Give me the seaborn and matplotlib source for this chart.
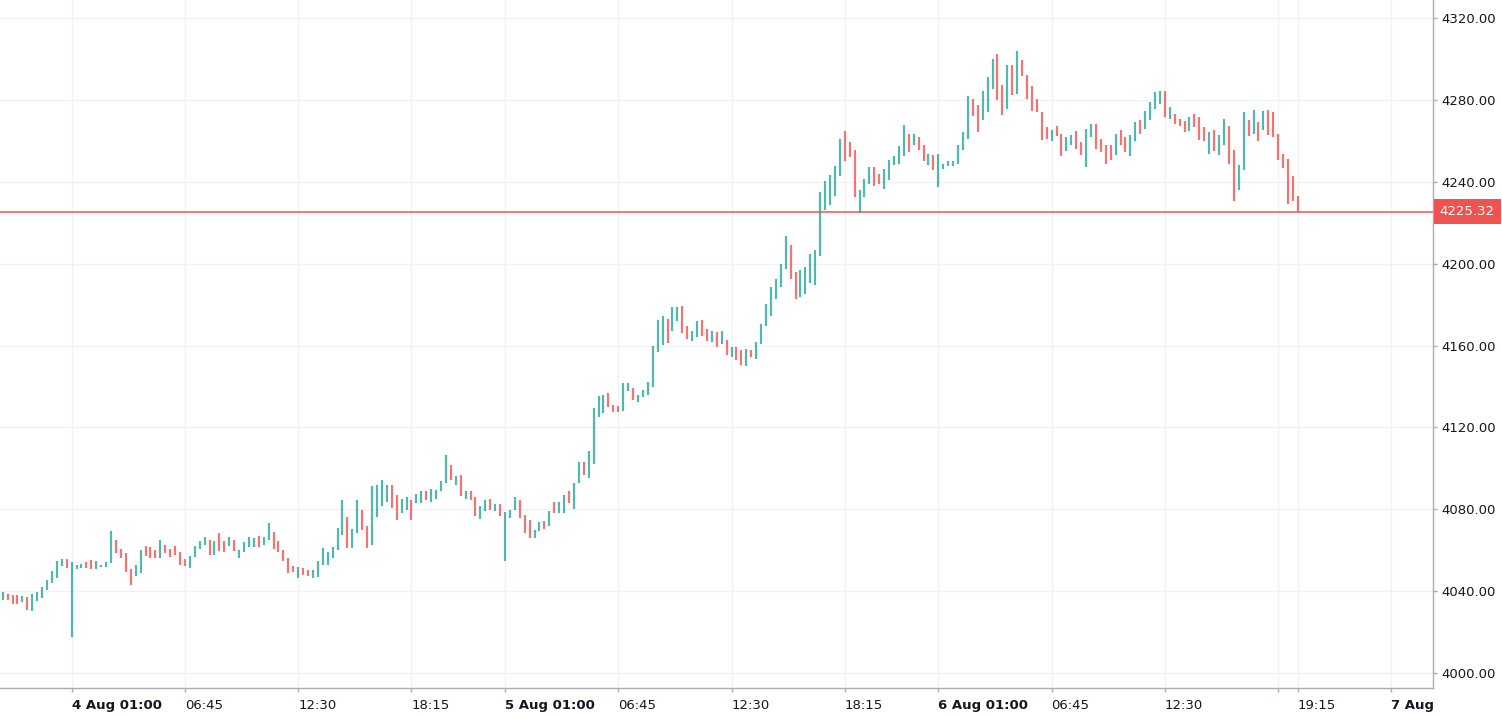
import numpy as np
import pandas as pd
import matplotlib
matplotlib.use('Agg')
import matplotlib.pyplot as plt
import seaborn as sns

# 15-minute bars, 4 Aug 00:30 -> 6 Aug 19:15 (high / low)
highs = [
    4039.5, 4038.6, 4038.1, 4038.0, 4037.5, 4037.0, 4038.8, 4039.5, 4041.9, 4045.5,
    4049.9, 4054.8, 4055.9, 4055.9, 4054.1, 4052.8, 4053.3, 4054.1, 4055.3, 4054.8,
    4052.8, 4054.3, 4069.3, 4064.8, 4060.8, 4058.7, 4051.0, 4052.8, 4060.1, 4062.1,
    4061.5, 4060.1, 4065.0, 4062.6, 4060.8, 4062.1, 4059.0, 4055.9, 4057.2, 4062.1,
    4064.6, 4066.4, 4065.0, 4064.6, 4068.3, 4064.6, 4066.4, 4065.0, 4060.1, 4064.0,
    4066.4, 4065.8, 4067.1, 4066.4, 4073.3, 4068.8, 4064.6, 4060.1, 4056.1, 4052.3,
    4051.6, 4051.2, 4050.3, 4050.3, 4054.8, 4061.2, 4059.2, 4061.5, 4070.7, 4084.5,
    4076.1, 4070.5, 4084.5, 4079.7, 4071.8, 4091.4, 4091.9, 4094.3, 4091.9, 4091.9,
    4087.0, 4085.2, 4085.9, 4084.5, 4087.6, 4088.9, 4088.9, 4090.0, 4089.4, 4093.8,
    4106.5, 4101.6, 4096.3, 4096.8, 4088.9, 4088.9, 4085.9, 4081.6, 4084.5, 4085.2,
    4082.7, 4082.7, 4078.5, 4079.7, 4085.9, 4084.5, 4077.2, 4074.8, 4069.9, 4073.6,
    4074.4, 4079.2, 4083.6, 4083.6, 4087.0, 4088.9, 4093.0, 4102.9, 4102.9, 4108.5,
    4129.6, 4135.3, 4135.8, 4136.7, 4130.9, 4130.5, 4141.5, 4141.5, 4139.1, 4135.8,
    4138.3, 4142.0, 4159.8, 4172.5, 4174.4, 4173.1, 4178.7, 4178.7, 4179.3, 4169.5,
    4167.1, 4172.0, 4172.5, 4168.2, 4167.1, 4166.5, 4167.1, 4162.7, 4159.1, 4159.1,
    4157.8, 4158.5, 4157.8, 4161.6, 4170.7, 4180.4, 4188.4, 4192.6, 4200.0, 4213.5,
    4209.1, 4195.8, 4196.9, 4198.2, 4204.9, 4206.7, 4234.9, 4240.4, 4243.3, 4247.7,
    4261.0, 4264.8, 4259.3, 4255.5, 4236.0, 4241.5, 4247.1, 4247.1, 4243.9, 4246.4,
    4250.6, 4252.6, 4257.5, 4267.7, 4263.5, 4263.5, 4261.7, 4258.0, 4253.7, 4253.1,
    4253.7, 4248.8, 4250.1, 4250.1, 4258.0, 4264.2, 4281.9, 4280.6, 4277.5, 4284.3,
    4291.0, 4300.1, 4302.6, 4287.3, 4297.0, 4297.0, 4303.9, 4299.5, 4292.2, 4286.8,
    4280.6, 4274.0, 4266.6, 4265.3, 4267.2, 4263.5, 4261.7, 4262.8, 4264.8, 4259.3,
    4265.9, 4268.4, 4268.4, 4261.0, 4258.0, 4258.0, 4263.5, 4265.3, 4261.7, 4262.8,
    4269.0, 4270.2, 4274.6, 4278.8, 4283.7, 4284.3, 4284.3, 4276.4, 4273.3, 4270.8,
    4269.7, 4271.5, 4273.3, 4271.5, 4266.6, 4264.2, 4265.3, 4262.8, 4270.8, 4267.2,
    4255.5, 4248.2, 4274.0, 4270.2, 4275.1, 4269.0, 4274.6, 4275.1, 4274.0, 4263.5,
    4253.4, 4251.3, 4242.8, 4233.0]

lows = [
    4035.7, 4035.7, 4033.9, 4033.9, 4034.7, 4030.8, 4030.3, 4035.2, 4036.8, 4040.6,
    4043.9, 4046.6, 4052.3, 4051.5, 4017.5, 4050.8, 4051.5, 4051.5, 4050.7, 4051.0,
    4051.6, 4051.6, 4053.6, 4058.7, 4056.1, 4049.5, 4043.0, 4047.5, 4048.8, 4057.2,
    4056.1, 4056.1, 4056.1, 4058.7, 4056.6, 4057.7, 4052.8, 4052.5, 4051.5, 4056.6,
    4060.8, 4062.6, 4057.7, 4057.7, 4059.6, 4059.0, 4062.1, 4059.6, 4056.1, 4059.0,
    4061.5, 4061.5, 4061.5, 4062.6, 4065.0, 4060.8, 4059.0, 4054.8, 4048.8, 4049.4,
    4046.3, 4047.9, 4047.4, 4046.3, 4046.8, 4052.8, 4052.8, 4056.2, 4060.1, 4067.4,
    4061.3, 4061.3, 4068.3, 4069.9, 4061.3, 4062.6, 4076.1, 4081.6, 4083.4, 4080.8,
    4074.8, 4078.3, 4079.7, 4074.8, 4083.0, 4083.0, 4084.5, 4083.4, 4085.2, 4088.9,
    4092.7, 4094.3, 4091.9, 4086.5, 4085.2, 4084.5, 4076.7, 4075.4, 4079.2, 4079.7,
    4079.2, 4076.7, 4054.8, 4075.9, 4079.7, 4075.9, 4068.6, 4065.8, 4066.1, 4069.5,
    4070.5, 4071.8, 4078.1, 4078.1, 4078.1, 4082.9, 4080.3, 4092.7, 4096.6, 4095.4,
    4102.0, 4125.1, 4126.9, 4129.8, 4127.4, 4127.4, 4128.0, 4137.9, 4133.4, 4132.3,
    4134.8, 4135.8, 4139.6, 4156.7, 4160.3, 4161.1, 4167.3, 4172.0, 4166.3, 4163.3,
    4162.2, 4164.0, 4164.7, 4162.2, 4161.6, 4159.1, 4160.7, 4155.4, 4154.2, 4152.9,
    4150.5, 4150.0, 4154.2, 4153.6, 4160.9, 4169.5, 4174.4, 4182.9, 4188.4, 4197.5,
    4192.6, 4182.9, 4183.6, 4185.3, 4190.7, 4189.6, 4203.7, 4226.2, 4228.7, 4233.0,
    4242.8, 4250.1, 4252.0, 4232.4, 4224.9, 4232.4, 4239.1, 4238.1, 4239.1, 4236.6,
    4240.9, 4248.2, 4248.8, 4252.6, 4254.4, 4258.0, 4255.5, 4250.1, 4248.2, 4245.7,
    4237.3, 4246.4, 4247.7, 4247.7, 4248.8, 4255.5, 4261.0, 4272.1, 4264.2, 4270.2,
    4274.0, 4285.5, 4280.0, 4272.6, 4275.7, 4282.4, 4283.0, 4291.7, 4280.6, 4274.6,
    4274.0, 4260.4, 4261.0, 4259.9, 4262.4, 4252.6, 4255.0, 4258.0, 4256.2, 4253.1,
    4247.1, 4261.7, 4256.2, 4254.4, 4248.8, 4250.6, 4253.1, 4258.0, 4254.4, 4252.6,
    4259.9, 4263.5, 4265.9, 4270.2, 4275.7, 4278.1, 4271.5, 4270.8, 4268.4, 4267.2,
    4264.2, 4264.8, 4266.6, 4260.4, 4259.9, 4253.7, 4255.0, 4253.1, 4258.0, 4248.8,
    4230.6, 4236.0, 4245.7, 4262.4, 4263.5, 4259.9, 4265.3, 4262.8, 4261.7, 4250.6,
    4246.5, 4229.3, 4230.6, 4225.3]

# 1 = close above open (green), 0 = close below open (red)
up = [
    1, 0, 0, 0, 1, 0, 1, 1, 1, 1,
    1, 1, 1, 0, 1, 1, 1, 0, 0, 1,
    1, 1, 1, 0, 0, 0, 0, 1, 1, 0,
    0, 0, 1, 0, 0, 0, 0, 0, 1, 1,
    1, 1, 0, 1, 0, 0, 1, 0, 1, 1,
    1, 1, 0, 1, 1, 0, 0, 0, 0, 0,
    1, 0, 0, 1, 1, 1, 1, 1, 1, 1,
    0, 1, 1, 0, 0, 1, 1, 1, 1, 0,
    0, 1, 1, 0, 1, 1, 0, 1, 1, 1,
    1, 0, 1, 0, 1, 0, 0, 1, 1, 0,
    1, 0, 1, 1, 1, 0, 0, 0, 1, 1,
    0, 1, 0, 1, 1, 0, 1, 1, 0, 1,
    1, 1, 1, 0, 0, 0, 1, 1, 0, 1,
    1, 1, 1, 1, 1, 0, 1, 1, 0, 0,
    1, 1, 0, 0, 1, 0, 1, 0, 1, 0,
    0, 1, 0, 1, 1, 1, 1, 1, 1, 1,
    0, 0, 1, 1, 1, 1, 1, 1, 1, 1,
    1, 0, 0, 0, 1, 1, 1, 0, 0, 1,
    1, 1, 1, 1, 0, 1, 0, 0, 1, 0,
    1, 1, 1, 1, 1, 1, 1, 0, 0, 1,
    1, 1, 0, 0, 1, 0, 1, 0, 0, 0,
    0, 0, 0, 1, 0, 0, 1, 1, 0, 0,
    1, 1, 0, 0, 0, 0, 1, 0, 0, 1,
    1, 0, 1, 1, 1, 1, 0, 1, 0, 0,
    0, 1, 0, 0, 0, 1, 0, 1, 1, 0,
    0, 1, 1, 0, 1, 0, 1, 0, 0, 0,
    0, 0, 0, 0]

last_price = 4225.32

# time axis labels (bar index where each label sits)
tick_bars = [14, 37, 60, 83, 102, 125, 148, 171, 190, 213, 236, 259, 263, 282]
tick_labels = ['4 Aug 01:00', '06:45', '12:30', '18:15', '5 Aug 01:00', '06:45', '12:30',
               '18:15', '6 Aug 01:00', '06:45', '12:30', '', '19:15', '7 Aug']
day_labels = ['4 Aug 01:00', '5 Aug 01:00', '6 Aug 01:00', '7 Aug']
price_ticks = [4000, 4040, 4080, 4120, 4160, 4200, 4240, 4280, 4320]

assert len(highs) == len(lows) == len(up)

GREEN = '#26a69a'
RED = '#ef5350'
GRID = '#f0f2f5'
AXIS = '#a9acb4'
TEXT = '#131722'

# long format: two rows (low, high) per bar -> one vertical segment per unit
n = len(highs)
idx = np.arange(n)
df = pd.DataFrame({
    'bar': np.concatenate([idx, idx]),
    'price': np.concatenate([lows, highs]),
    'dir': ['up' if u else 'down' for u in up] * 2,
})

sns.set_theme(style='white')
plt.rcParams['font.family'] = ['DejaVu Sans']

fig = plt.figure(figsize=(15.02, 7.17), dpi=100)
ax = fig.add_axes([0.0, 0.0404, 0.9539, 0.9596])

# grid first so it stays behind the bars
for p in price_ticks:
    ax.axhline(p, color=GRID, lw=1, zorder=0)
for b in tick_bars:
    ax.axvline(b, color=GRID, lw=1, zorder=0)

sns.lineplot(data=df, x='bar', y='price', hue='dir', units='bar', estimator=None,
             sort=False, palette={'up': GREEN, 'down': RED}, legend=False,
             linewidth=1.6, alpha=0.8, solid_capstyle='butt', ax=ax)

ax.axhline(last_price, color=RED, lw=1.3, alpha=0.85, zorder=3)

ax.set_xlim(-0.55, 290.4)
ax.set_ylim(3992.7, 4328.8)

ax.yaxis.tick_right()
ax.set_yticks(price_ticks)
ax.set_yticklabels([f'{p:.2f}' for p in price_ticks])
ax.set_xticks(tick_bars)
ax.set_xticklabels(tick_labels)
for lbl in ax.get_xticklabels():
    lbl.set_ha('left')
    if lbl.get_text() in day_labels:
        lbl.set_fontweight('bold')
        lbl.set_fontsize(10)

ax.tick_params(axis='y', length=3, width=1, pad=3, color=AXIS, labelcolor=TEXT,
               labelsize=9.5, left=False, right=True)
ax.tick_params(axis='x', length=3, width=1, pad=5, color=AXIS, labelcolor=TEXT,
               labelsize=9.5, bottom=True)
ax.set_xlabel('')
ax.set_ylabel('')

for side in ['left', 'top']:
    ax.spines[side].set_visible(False)
for side in ['right', 'bottom']:
    ax.spines[side].set_color(AXIS)
    ax.spines[side].set_linewidth(1)

# current price tag on the price scale
ax.annotate(f'{last_price:.2f}', xy=(1, last_price), xycoords=('axes fraction', 'data'),
            xytext=(5, 0), textcoords='offset points', ha='left', va='center',
            color='white', fontsize=9.5, annotation_clip=False,
            bbox=dict(boxstyle='square,pad=0.45', fc=RED, ec='none'))

plt.savefig('out.png', dpi=100)
